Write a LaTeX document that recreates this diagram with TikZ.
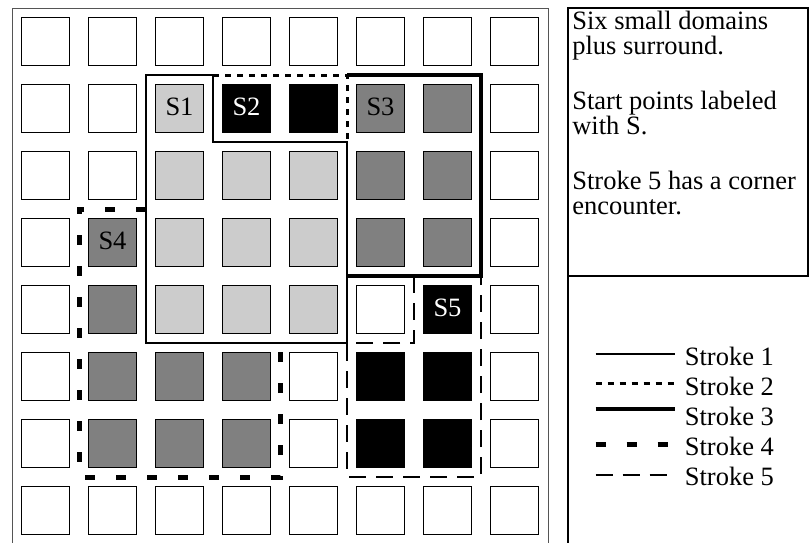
\documentclass[tikz,border=0pt]{standalone}
\usepackage{fontspec}
\setmainfont{Liberation Serif}
\usepackage{tikz}
\definecolor{domlight}{HTML}{CCCCCC}
\definecolor{domdark}{HTML}{808080}
\definecolor{framegray}{HTML}{555555}

\begin{document}
\begin{tikzpicture}[
  x=67bp, y=-67bp,
  cell/.style={draw, line width=1.3bp, minimum size=48bp, inner sep=0pt},
  lbl/.style={font=\fontsize{26.5bp}{25bp}\selectfont, inner sep=0pt},
  note/.style={font=\fontsize{26.5bp}{25bp}\selectfont, align=left, inner sep=0pt},
  stroke1/.style={line width=1.3bp},
  stroke2/.style={line width=3bp, dash pattern=on 6bp off 6bp},
  stroke3/.style={line width=4bp},
  stroke4/.style={line width=5bp, dash pattern=on 10bp off 21bp},
  stroke5/.style={line width=2.8bp, dash pattern=on 17bp off 10bp}
]
\useasboundingbox (-12bp,8bp) rectangle (797bp,-535bp);

% grid frame and info panel
\draw[framegray, line width=1bp] (0,8) -- (0,0) -- (8,0) -- (8,8);
\draw[line width=2bp] (8.3,0) rectangle (11.88,4);
\draw[line width=2bp] (8.3,4) -- (8.3,8);

% cells, one row at a time
\foreach \c [count=\i from 0] in {white,white,white,white,white,white,white,white}
  \node[cell, fill=\c] (c\i-0) at (\i+.5,.5) {};
\foreach \c [count=\i from 0] in {white,white,domlight,black,black,domdark,domdark,white}
  \node[cell, fill=\c] (c\i-1) at (\i+.5,1.5) {};
\foreach \c [count=\i from 0] in {white,white,domlight,domlight,domlight,domdark,domdark,white}
  \node[cell, fill=\c] (c\i-2) at (\i+.5,2.5) {};
\foreach \c [count=\i from 0] in {white,domdark,domlight,domlight,domlight,domdark,domdark,white}
  \node[cell, fill=\c] (c\i-3) at (\i+.5,3.5) {};
\foreach \c [count=\i from 0] in {white,domdark,domlight,domlight,domlight,white,black,white}
  \node[cell, fill=\c] (c\i-4) at (\i+.5,4.5) {};
\foreach \c [count=\i from 0] in {white,domdark,domdark,domdark,white,black,black,white}
  \node[cell, fill=\c] (c\i-5) at (\i+.5,5.5) {};
\foreach \c [count=\i from 0] in {white,domdark,domdark,domdark,white,black,black,white}
  \node[cell, fill=\c] (c\i-6) at (\i+.5,6.5) {};
\foreach \c [count=\i from 0] in {white,white,white,white,white,white,white,white}
  \node[cell, fill=\c] (c\i-7) at (\i+.5,7.5) {};

% start points
\node[lbl] (s1) at ([yshift=2bp]c2-1) {S1};
\node[lbl, text=white] (s2) at ([yshift=2bp]c3-1) {S2};
\node[lbl] (s3) at ([yshift=2bp]c5-1) {S3};
\node[lbl] (s4) at ([yshift=2bp]c1-3) {S4};
\node[lbl, text=white] (s5) at ([yshift=2bp]c6-4) {S5};

% strokes
\draw[stroke1] (2,1) -- (3,1) -- (3,2) -- (5,2) -- (5,5) -- (2,5) -- cycle;
\draw[stroke2] (3,1) -- (5,1) -- (5,2);
\draw[stroke3] (5,1) -- (7,1) -- (7,4) -- (5,4);
\draw[stroke4] (2,3) -- (1,3) -- (1,7) -- (4,7) -- (4,5);
\draw[stroke5] (6,4) -- (6,5) -- (5,5) -- (5,7) -- (7,7) -- (7,4);

% notes
\node[note, anchor=north west] (info) at (8.36,0.05)
  {Six small domains\\ plus surround.\\[30bp]
   Start points labeled\\ with S.\\[30bp]
   Stroke 5 has a corner\\ encounter.};

% legend
\foreach \k/\y/\dy in {1/5.194/2,2/5.642/3,3/6.09/7,4/6.537/1,5/6.985/1} {
  \node[lbl, anchor=west] (leg\k) at (10.04,\y) {Stroke \k};
  \draw[stroke\k] ([xshift=-89bp,yshift=\dy bp]leg\k.west) -- ++(79bp,0);
}
\end{tikzpicture}
\end{document}
